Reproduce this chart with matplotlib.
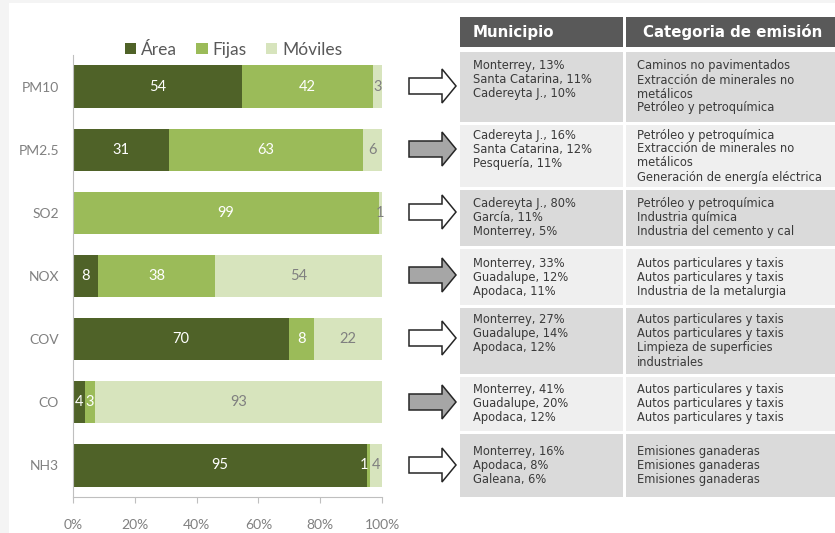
import numpy as np
import matplotlib
matplotlib.use("Agg")
import matplotlib.pyplot as plt
from matplotlib.patches import Rectangle, Polygon

# Datos de la gráfica
contaminantes = ["PM10", "PM2.5", "SO2", "NOX", "COV", "CO", "NH3"]
area = [54, 31, 0, 8, 70, 4, 95]
fijas = [42, 63, 99, 38, 8, 3, 1]
moviles = [3, 6, 1, 54, 22, 93, 4]
series_nombres = ["Área", "Fijas", "Móviles"]
ticks_x = [0, 20, 40, 60, 80, 100]

# Datos de la tabla
encabezados = ["Municipio", "Categoria de emisión"]
municipios = [
    ["Monterrey, 13%", "Santa Catarina, 11%", "Cadereyta J., 10%"],
    ["Cadereyta J., 16%", "Santa Catarina, 12%", "Pesquería, 11%"],
    ["Cadereyta J., 80%", "García, 11%", "Monterrey, 5%"],
    ["Monterrey, 33%", "Guadalupe, 12%", "Apodaca, 11%"],
    ["Monterrey, 27%", "Guadalupe, 14%", "Apodaca, 12%"],
    ["Monterrey, 41%", "Guadalupe, 20%", "Apodaca, 12%"],
    ["Monterrey, 16%", "Apodaca, 8%", "Galeana, 6%"],
]
categorias = [
    ["Caminos no pavimentados", "Extracción de minerales no", "metálicos", "Petróleo y petroquímica"],
    ["Petróleo y petroquímica", "Extracción de minerales no", "metálicos", "Generación de energía eléctrica"],
    ["Petróleo y petroquímica", "Industria química", "Industria del cemento y cal"],
    ["Autos particulares y taxis", "Autos particulares y taxis", "Industria de la metalurgia"],
    ["Autos particulares y taxis", "Autos particulares y taxis", "Limpieza de superficies", "industriales"],
    ["Autos particulares y taxis", "Autos particulares y taxis", "Autos particulares y taxis"],
    ["Emisiones ganaderas", "Emisiones ganaderas", "Emisiones ganaderas"],
]
flecha_gris = [False, True, False, True, False, True, False]

# Colores
colores = ["#4F6228", "#9BBB59", "#D7E4BD"]
colores_texto = ["white", "white", "#808080"]

W, H = 835, 533
fig = plt.figure(figsize=(W / 100, H / 100), dpi=100)
fig.patch.set_facecolor("#F4F4F4")

# Capa de fondo / tabla en coordenadas de pixel
over = fig.add_axes([0, 0, 1, 1])
over.set_xlim(0, W)
over.set_ylim(H, 0)
over.axis("off")
over.add_patch(Rectangle((9, 3), W - 9, H - 3, facecolor="white", edgecolor="none"))

# --- gráfica de barras (100% apiladas) ---
ax = fig.add_axes([73 / W, 36 / H, (382 - 73) / W, (497 - 55) / H])
ax.set_facecolor("none")
y = np.arange(len(contaminantes))
valores = np.array([area, fijas, moviles], dtype=float)
totales = valores.sum(axis=0)
izq = np.zeros(len(contaminantes))
for k, (nombre, col, ctxt) in enumerate(zip(series_nombres, colores, colores_texto)):
    vals = valores[k]
    anchos = vals / totales * 100
    ax.barh(y, anchos, left=izq, height=0.67, color=col, label=nombre)
    for yi, l, a, v in zip(y, izq, anchos, vals):
        if v <= 0:
            continue
        xc = l + a / 2
        ha = "center"
        if k == 1 and a < 2:
            ha = "right"
        ax.text(xc, yi, f"{int(v)}", ha=ha, va="center",
                color=ctxt, fontsize=10.5, family="Lato")
    izq += anchos

ax.set_ylim(6.5, -0.5)
ax.set_xlim(0, 100)
ax.set_yticks(y)
ax.set_yticklabels(contaminantes, color="#808080", fontsize=10, family="Lato")
ax.tick_params(axis="y", length=0, pad=10)
ax.set_xticks(ticks_x)
ax.set_xticklabels([f"{t}%" for t in ticks_x], color="#808080", fontsize=10, family="Lato")
ax.tick_params(axis="x", length=4, color="#BFBFBF", pad=12, direction="out")
for s in ["top", "right"]:
    ax.spines[s].set_visible(False)
ax.spines["left"].set_color("#BFBFBF")
ax.spines["bottom"].set_color("#BFBFBF")

leg = ax.legend(loc="center", bbox_to_anchor=(0.52, 1.012), ncol=3, frameon=False,
                handlelength=0.65, handleheight=0.65, handletextpad=0.3, columnspacing=1.1,
                prop={"family": "Lato", "size": 12.5})
for t in leg.get_texts():
    t.set_color("#595959")

# --- flechas ---
centros = [86, 149, 212, 275, 338, 402, 465]
for cy, gris in zip(centros, flecha_gris):
    pts = [(409, cy - 8), (442, cy - 8), (442, cy - 17), (456, cy),
           (442, cy + 17), (442, cy + 8), (409, cy + 8)]
    over.add_patch(Polygon(pts, closed=True, facecolor="#A6A6A6" if gris else "white",
                           edgecolor="#262626", lw=1.1))

# --- tabla ---
c1_x0, c1_x1 = 460, 623
c2_x0, c2_x1 = 626, 835
over.add_patch(Rectangle((c1_x0, 17), c1_x1 - c1_x0, 30, facecolor="#595959", edgecolor="none"))
over.add_patch(Rectangle((c2_x0, 17), c2_x1 - c2_x0, 30, facecolor="#595959", edgecolor="none"))
over.text(473, 32, encabezados[0], color="white", fontsize=10.8, fontweight="bold",
          va="center", ha="left", family="DejaVu Sans")
over.text(643, 32, encabezados[1], color="white", fontsize=10.8, fontweight="bold",
          va="center", ha="left", family="DejaVu Sans")

filas = [(52, 122), (125, 187), (190, 246), (249, 305), (308, 374), (377, 431), (434, 497)]
paso = 14
for i, ((t0, t1), mun, cat) in enumerate(zip(filas, municipios, categorias)):
    fondo = "#DADADA" if i % 2 == 0 else "#EFEFEF"
    over.add_patch(Rectangle((c1_x0, t0), c1_x1 - c1_x0, t1 - t0, facecolor=fondo, edgecolor="none"))
    over.add_patch(Rectangle((c2_x0, t0), c2_x1 - c2_x0, t1 - t0, facecolor=fondo, edgecolor="none"))
    n = max(len(mun), len(cat))
    y0 = (t0 + t1) / 2 - (n - 1) / 2 * paso
    for j, linea in enumerate(mun):
        over.text(473, y0 + j * paso, linea, fontsize=8.3, color="#3A3A3A",
                  va="center", ha="left", family="DejaVu Sans")
    for j, linea in enumerate(cat):
        over.text(637, y0 + j * paso, linea, fontsize=8.3, color="#3A3A3A",
                  va="center", ha="left", family="DejaVu Sans")

fig.savefig("out.png", dpi=100)
